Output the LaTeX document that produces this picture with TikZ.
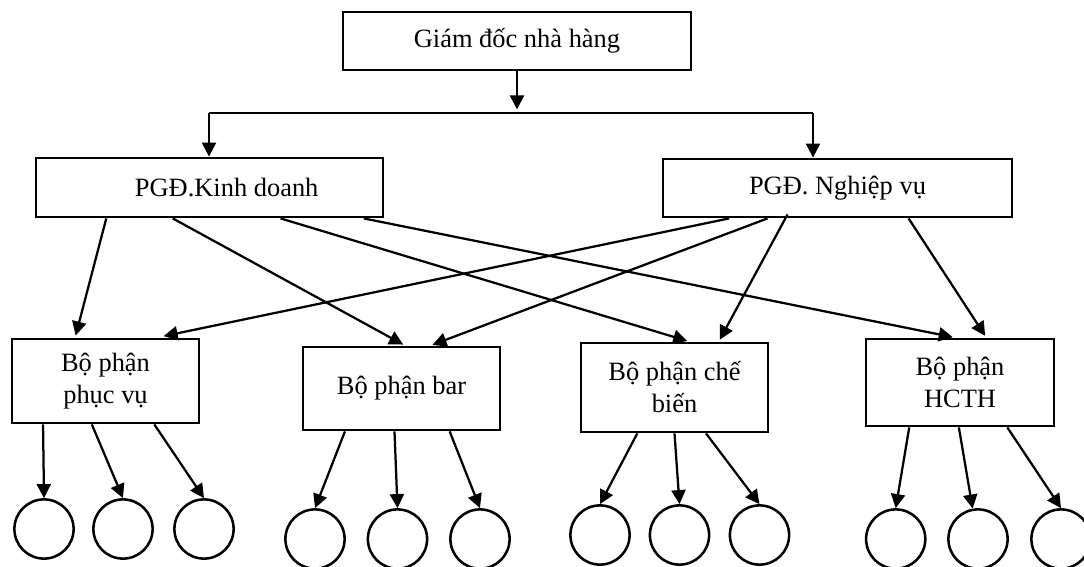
\documentclass[tikz,border=0pt]{standalone}
\usepackage{fontspec}
\setmainfont{Liberation Serif}
\usetikzlibrary{arrows.meta,calc}

\newcommand{\Bpt}[2]{($(#1.south west)!#2!(#1.south east)$)}
\newcommand{\Tpt}[2]{($(#1.north west)!#2!(#1.north east)$)}

\tikzset{
  unit/.style={draw, line width=2pt, inner sep=2pt, align=center,
    font=\fontsize{18.8}{22.8}\selectfont},
  leaf/.style={draw, circle, line width=1.8pt, minimum size=1.48cm, inner sep=0pt},
  link/.style={line width=1.6pt},
  arr/.style={link, -{Triangle[length=10pt,width=10pt]}},
}

\begin{document}
\begin{tikzpicture}[x=0.025cm, y=-0.025cm]
\useasboundingbox (0,0) rectangle (1084,566);
% top
\node[unit, minimum width=8.7cm, minimum height=1.45cm] (gd) at (517,41) {Giám đốc nhà hàng};
\coordinate (busL) at (209,113);
\coordinate (busR) at (813,113);
\draw[arr] (gd.south) -- ++(0,38);
\draw[link] (busL) -- (busR);
% deputies
\node[unit, minimum width=8.675cm, minimum height=1.475cm] (kd) at (209.5,187.5) {\hspace*{1.3em}PGĐ.Kinh doanh};
\node[unit, minimum width=8.725cm, minimum height=1.45cm] (nv) at (837.5,188) {PGĐ. Nghiệp vụ};
\draw[arr] (busL) -- (busL |- kd.north);
\draw[arr] (busR) -- (busR |- nv.north);
% departments
\node[unit, minimum width=4.675cm, minimum height=2.1cm] (pv) at (105.5,381) {Bộ phận\\phục vụ};
\node[unit, minimum width=4.925cm, minimum height=2.075cm] (bar) at (401.5,388.5) {Bộ phận bar};
\node[unit, minimum width=4.675cm, minimum height=2.225cm] (cb) at (674.5,387.5) {Bộ phận chế\\biến};
\node[unit, minimum width=4.7cm, minimum height=2.175cm] (hc) at (960,382.5) {Bộ phận\\HCTH};
\draw[arr, shorten >=1.5pt] \Bpt{kd}{0.205} -- \Tpt{pv}{0.34};
\draw[arr, shorten >=1.5pt] \Bpt{kd}{0.395} -- \Tpt{bar}{0.518};
\draw[arr, shorten >=1.5pt] \Bpt{kd}{0.703} -- \Tpt{cb}{0.578};
\draw[arr, shorten >=1.5pt] \Bpt{kd}{0.941} -- \Tpt{hc}{0.473};
\draw[arr, shorten >=5pt] \Bpt{nv}{0.192} -- \Tpt{pv}{0.77};
\draw[arr, shorten >=1.5pt] \Bpt{nv}{0.301} -- \Tpt{bar}{0.645};
\draw[arr, shorten >=1.5pt] ($(nv.south west)!0.358!(nv.south east)+(0,-4)$) -- \Tpt{cb}{0.733};
\draw[arr, shorten >=1.5pt] \Bpt{nv}{0.702} -- \Tpt{hc}{0.638};
% staff
\node[leaf] (pv1) at (44,529) {};
\node[leaf] (pv2) at (123,529) {};
\node[leaf] (pv3) at (204,529) {};
\node[leaf] (bar1) at (315,539) {};
\node[leaf] (bar2) at (397.5,539) {};
\node[leaf] (bar3) at (480,539) {};
\node[leaf] (cb1) at (600,535) {};
\node[leaf] (cb2) at (679.5,535) {};
\node[leaf] (cb3) at (759.5,535) {};
\node[leaf] (hc1) at (895.7,539) {};
\node[leaf] (hc2) at (978,539) {};
\node[leaf] (hc3) at (1061,539) {};
\draw[arr] \Bpt{pv}{0.171} -- (pv1.north);
\draw[arr] \Bpt{pv}{0.428} -- (pv2.north);
\draw[arr] \Bpt{pv}{0.757} -- (pv3.north);
\draw[arr] \Bpt{bar}{0.217} -- (bar1.north);
\draw[arr] \Bpt{bar}{0.465} -- (bar2.north);
\draw[arr] \Bpt{bar}{0.741} -- (bar3.north);
\draw[arr] \Bpt{cb}{0.304} -- (cb1.north);
\draw[arr] \Bpt{cb}{0.5} -- (cb2.north);
\draw[arr] \Bpt{cb}{0.666} -- (cb3.north);
\draw[arr] \Bpt{hc}{0.234} -- (hc1.north);
\draw[arr] \Bpt{hc}{0.494} -- (hc2.100);
\draw[arr] \Bpt{hc}{0.748} -- (hc3.north);
\end{tikzpicture}
\end{document}
